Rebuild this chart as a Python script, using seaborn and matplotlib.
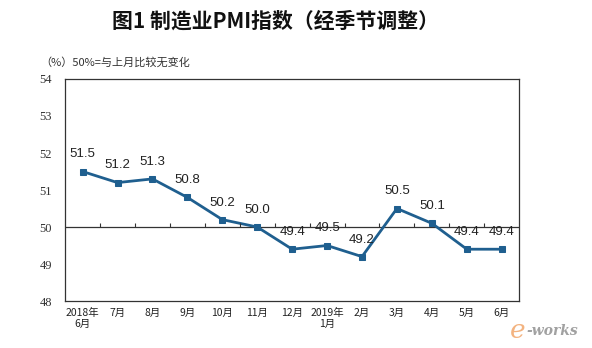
import matplotlib
matplotlib.use("Agg")
import matplotlib.pyplot as plt
import seaborn as sns
import pandas as pd
import numpy as np

months = ["2018年\n6月", "7月", "8月", "9月", "10月", "11月", "12月",
          "2019年\n1月", "2月", "3月", "4月", "5月", "6月"]
pmi = [51.5, 51.2, 51.3, 50.8, 50.2, 50.0, 49.4, 49.5, 49.2, 50.5, 50.1, 49.4, 49.4]
yticks = [48, 49, 50, 51, 52, 53, 54]

sns.set_style("white")
plt.rcParams['font.family'] = ['Noto Sans CJK SC', 'DejaVu Sans']

df = pd.DataFrame({"idx": np.arange(len(pmi)), "pmi": pmi})

fig = plt.figure(figsize=(5.92, 3.48), dpi=100)
ax = fig.add_axes([0.110, 0.135, 0.767, 0.638])

color = "#1f5f8f"
sns.lineplot(data=df, x="idx", y="pmi", ax=ax, color=color, marker="s",
             markersize=4, linewidth=2, markeredgecolor=color)

ax.set_xlim(-0.5, len(pmi) - 0.5)
ax.set_ylim(48, 54)
ax.set_yticks(yticks)
ax.set_yticklabels([str(v) for v in yticks], fontsize=9, color="#333333",
                   family=['Liberation Serif'])
ax.tick_params(axis='y', direction='in', length=4, width=0.8, color="#333333", pad=9.5)
ax.set_xticks(df["idx"])
ax.set_xticklabels(months, fontsize=7.5, color="#222222", linespacing=1.1)
ax.tick_params(axis='x', length=0, pad=5)
ax.set_xlabel("")
ax.set_ylabel("")

for s in ax.spines.values():
    s.set_color("#333333")
    s.set_linewidth(0.9)

# 50 reference line with small upward ticks between categories
ax.axhline(50, color="#333333", linewidth=0.9, zorder=1)
bounds = df["idx"].values[:-1] + 0.5
ax.vlines(bounds, 50, 50.1, color="#333333", linewidth=0.8)

for i, v in zip(df["idx"], pmi):
    ax.annotate(f"{v:.1f}", (i, v), xytext=(0, 8), textcoords="offset points",
                ha="center", va="bottom", fontsize=9.5, color="#222222",
                family=['Liberation Sans'])

fig.text(0.466, 0.94, "图1 制造业PMI指数（经季节调整）", ha="center", va="center",
         fontsize=15, fontweight="bold", color="#111111")
fig.text(0.068, 0.822, "（%）50%=与上月比较无变化", ha="left", va="center",
         fontsize=8, color="#333333")

# watermark
fig.text(0.862, 0.05, "e", ha="left", va="center", fontsize=19, style="italic",
         color="#f0a060", alpha=0.8, family=['DejaVu Serif'])
fig.text(0.89, 0.05, "-works", ha="left", va="center", fontsize=10, style="italic",
         fontweight="bold", color="#8a8a8a", alpha=0.8, family=['DejaVu Serif'])

fig.savefig("out.png", dpi=100)
